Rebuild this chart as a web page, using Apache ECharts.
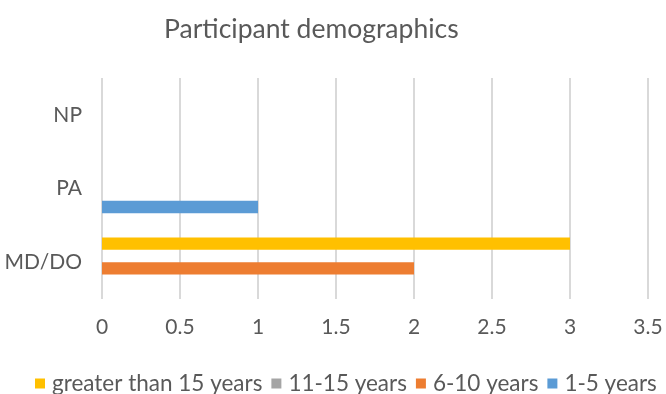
<!DOCTYPE html>
<html>
<head>
<meta charset="utf-8">
<script src="https://cdn.jsdelivr.net/npm/echarts@6/dist/echarts.min.js"></script>
<style>html,body{margin:0;padding:0;background:#fff;}#c{width:666px;height:394px;}</style>
</head>
<body>
<div id="c"></div>
<script>
const categories = ['MD/DO', 'PA', 'NP'];
const seriesNames = ['greater than 15 years', '11-15 years', '6-10 years', '1-5 years'];
const over15 = [3, 0, 0];
const y11to15 = [0, 0, 0];
const y6to10 = [2, 0, 0];
const y1to5 = [0, 1, 0];
const colors = ['#FFC000', '#A5A5A5', '#ED7D31', '#5B9BD5'];
const xTicks = { min: 0, max: 3.5, interval: 0.5 };

const font = 'Lato, "Open Sans", sans-serif';
const values = [over15, y11to15, y6to10, y1to5];
const chart = echarts.init(document.getElementById('c'), null, { renderer: 'canvas' });
chart.setOption({
  animation: false,
  color: colors,
  title: {
    text: 'Participant demographics',
    left: 159, top: 11,
    textStyle: { fontFamily: font, fontSize: 26.5, fontWeight: 'normal', color: '#595959' }
  },
  grid: { left: 102, right: 18, top: 78, bottom: 95, containLabel: false },
  xAxis: {
    type: 'value', min: xTicks.min, max: xTicks.max, interval: xTicks.interval,
    axisLine: { show: false }, axisTick: { show: false },
    axisLabel: { color: '#595959', fontFamily: font, fontSize: 21, margin: 18,
      formatter: v => String(v) },
    splitLine: { show: true, lineStyle: { color: '#D9D9D9', width: 2 } }
  },
  yAxis: {
    type: 'category', data: categories,
    axisLine: { show: false }, axisTick: { show: false },
    axisLabel: { color: '#595959', fontFamily: font, fontSize: 21, margin: 20 }
  },
  legend: {
    top: 372, left: 35, padding: 0, icon: 'rect', itemWidth: 10, itemHeight: 10, itemGap: 9,
    textStyle: { color: '#595959', fontFamily: font, fontSize: 22.5, padding: [0, 0, 0, 2] },
    data: seriesNames
  },
  series: seriesNames.map((n, i) => ({
    name: n, type: 'bar', data: values[i],
    barGap: '0%', barCategoryGap: '33%'
  }))
});
</script>
</body>
</html>
